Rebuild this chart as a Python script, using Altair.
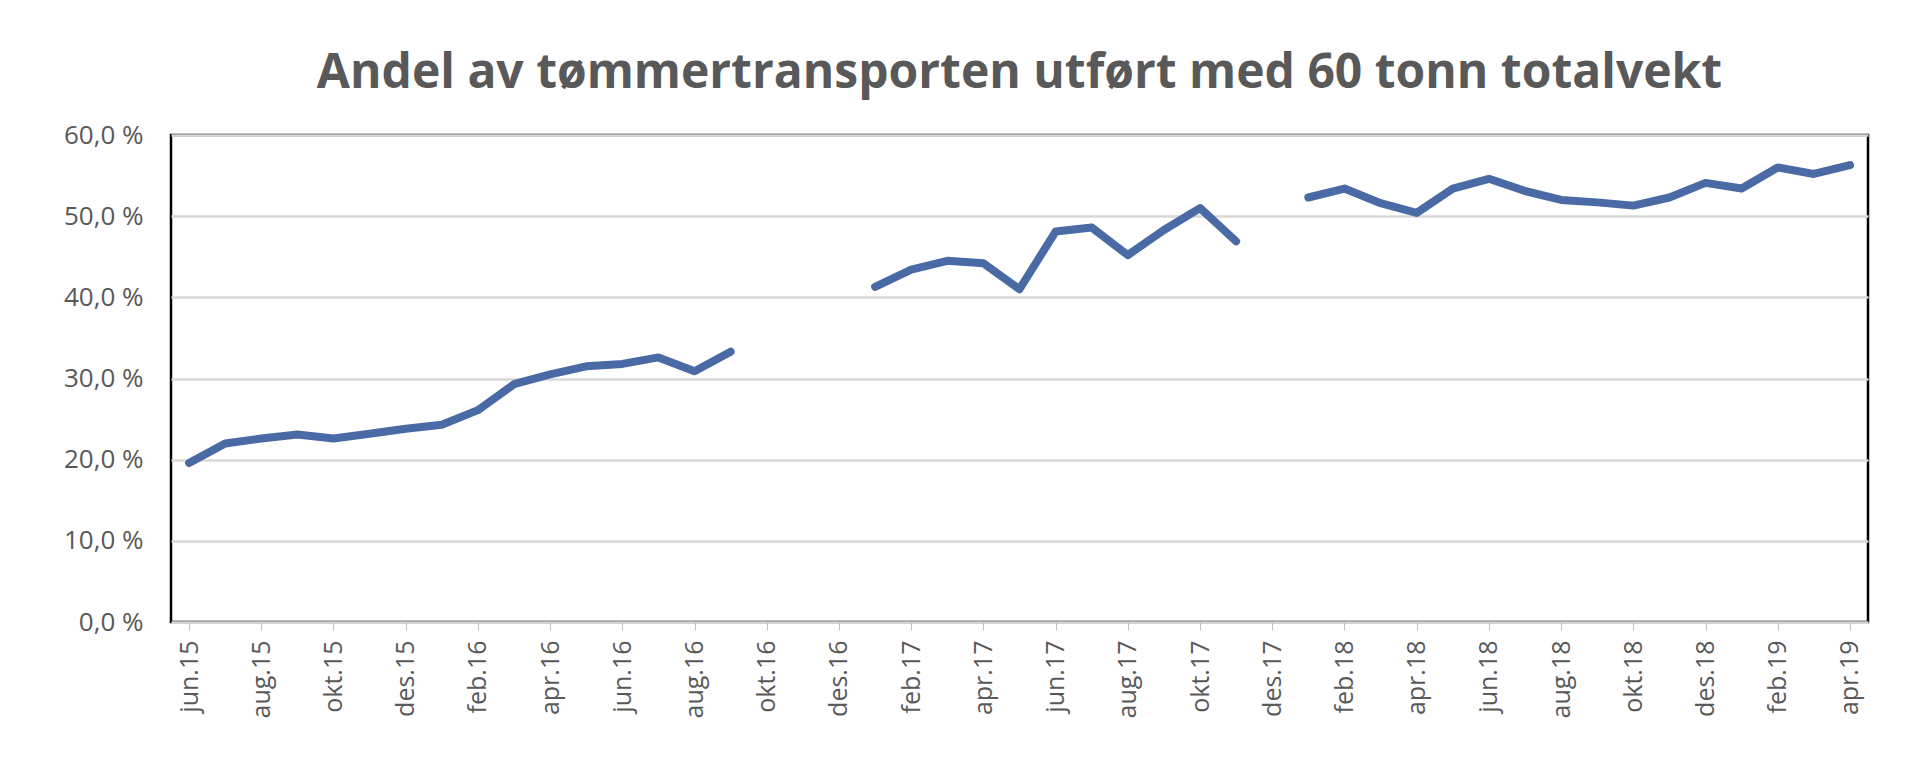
import altair as alt
import pandas as pd

months = ["jun.15","jul.15","aug.15","sep.15","okt.15","nov.15","des.15",
          "jan.16","feb.16","mar.16","apr.16","mai.16","jun.16","jul.16","aug.16","sep.16","okt.16","nov.16","des.16",
          "jan.17","feb.17","mar.17","apr.17","mai.17","jun.17","jul.17","aug.17","sep.17","okt.17","nov.17","des.17",
          "jan.18","feb.18","mar.18","apr.18","mai.18","jun.18","jul.18","aug.18","sep.18","okt.18","nov.18","des.18",
          "jan.19","feb.19","mar.19","apr.19"]
values = [19.6,22.0,22.6,23.1,22.6,23.2,23.8,
          24.3,26.1,29.3,30.5,31.5,31.8,32.6,30.9,33.3,None,None,None,
          41.3,43.4,44.5,44.2,41.0,48.1,48.6,45.2,48.3,51.0,46.9,None,
          52.3,53.4,51.6,50.4,53.4,54.6,53.1,52.0,51.7,51.3,52.3,54.1,
          53.4,56.0,55.2,56.3]

seg = []
s = 0
for v in values:
    if v is None:
        s += 1
    seg.append(s)
df = pd.DataFrame({"m": months, "v": values, "seg": seg}).dropna()

shown = months[::2]
font = "Open Sans"

chart = alt.Chart(df).mark_line(color="#4A6AA5", strokeWidth=8, strokeCap="round", strokeJoin="round").encode(
    x=alt.X("m:O", sort=months, scale=alt.Scale(domain=months, paddingInner=0, paddingOuter=0.2),
            axis=alt.Axis(title=None, values=shown, labelAngle=-90, labelFontSize=25, labelColor="#595959",
                          labelFont=font, tickColor="#bfbfbf", tickSize=8, bandPosition=0, domain=False,
                          labelPadding=10, labelBaseline="middle", labelAlign="right")),
    y=alt.Y("v:Q", scale=alt.Scale(domain=[0, 60], nice=False),
            axis=alt.Axis(title=None, values=[0,10,20,30,40,50,60], labelFontSize=26, labelColor="#595959",
                          labelFont=font, ticks=False, domain=False, gridColor="#d9d9d9", gridWidth=2.5,
                          labelPadding=28,
                          labelExpr="replace(format(datum.value, '.1f'), '.', ',') + ' %'")),
    detail="seg:N",
).properties(
    width=1697, height=487,
    title=alt.TitleParams("Andel av tømmertransporten utført med 60 tonn totalvekt", fontSize=48,
                          font=font, fontWeight="bold", color="#595959", offset=24, anchor="middle"),
    autosize=alt.AutoSizeParams(type="none"),
    padding={"left": 163, "top": 127, "right": 40, "bottom": 150},
).configure_view(stroke="black", strokeWidth=2.5)

chart.save("out.html", embed_options={"renderer": "svg", "actions": False})
